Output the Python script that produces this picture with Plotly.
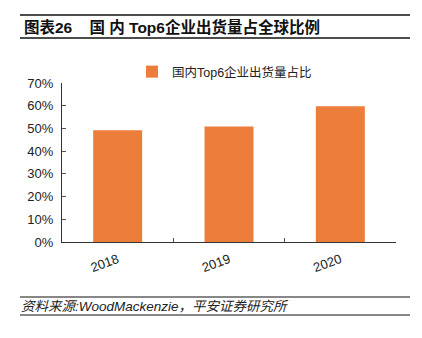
import plotly.graph_objects as go

years = ["2018", "2019", "2020"]
share = [0.492, 0.508, 0.598]
y_ticks = [0, 0.1, 0.2, 0.3, 0.4, 0.5, 0.6, 0.7]
series_name = "国内Top6企业出货量占比"
title = "图表26\u00a0\u00a0\u00a0\u00a0国\u00a0内\u00a0Top6企业出货量占全球比例"
source = "资料来源:WoodMackenzie，平安证券研究所"

FONT = "Liberation Sans, Arial, Noto Sans CJK SC, sans-serif"
ORANGE = "#ED7D3A"

fig = go.Figure()
fig.add_trace(go.Bar(x=years, y=share, name=series_name,
                     marker=dict(color=ORANGE, line=dict(width=0))))

L, R, T, B = 62, 26, 83, 96
W, H = 422, 338
pw, ph = W - L - R, H - T - B

fig.update_layout(
    width=W, height=H,
    margin=dict(l=L, r=R, t=T, b=B, pad=0),
    paper_bgcolor="white", plot_bgcolor="white",
    font=dict(family=FONT, size=13, color="#222"),
    bargap=0.56,
    showlegend=True,
    legend=dict(orientation="h", x=(132 - L) / pw, y=1 + (T - 72) / ph,
                xanchor="left", yanchor="middle",
                font=dict(size=12.5, color="#222"),
                itemwidth=30, bgcolor="rgba(0,0,0,0)", traceorder="normal"),
    xaxis=dict(type="category", showline=True, linecolor="#333", linewidth=1.2,
               ticks="inside", tickson="boundaries", ticklen=4, tickcolor="#555",
               tickangle=-20, showgrid=False, ticklabelstandoff=4,
               tickfont=dict(size=13, color="#222")),
    yaxis=dict(range=[0, 0.7], tickvals=y_ticks, tickformat=".0%",
               showline=True, linecolor="#333", linewidth=1.2,
               ticks="inside", ticklen=4, tickcolor="#555", ticklabelstandoff=5,
               showgrid=False, zeroline=False, tickfont=dict(size=13, color="#222")),
)

def hline(ypx, x0=20, x1=410, w=1.5):
    fig.add_shape(type="line", xref="paper", yref="paper",
                  x0=(x0 - L) / pw, x1=(x1 - L) / pw,
                  y0=1 - (ypx - T) / ph, y1=1 - (ypx - T) / ph,
                  line=dict(color="#111", width=w))

hline(15)
hline(38)
hline(297, w=1.2)
hline(315, w=1.2)

fig.add_annotation(text="<b>" + title + "</b>", xref="paper", yref="paper",
                   x=(22 - L) / pw, y=1 - (27 - T) / ph, xanchor="left", yanchor="middle",
                   showarrow=False, font=dict(size=15.5, color="#111", family=FONT))
fig.add_annotation(text="<i>" + source + "</i>", xref="paper", yref="paper",
                   x=(19 - L) / pw, y=1 - (306 - T) / ph, xanchor="left", yanchor="middle",
                   showarrow=False, font=dict(size=13.5, color="#222", family=FONT))

fig.write_html("out.html")
